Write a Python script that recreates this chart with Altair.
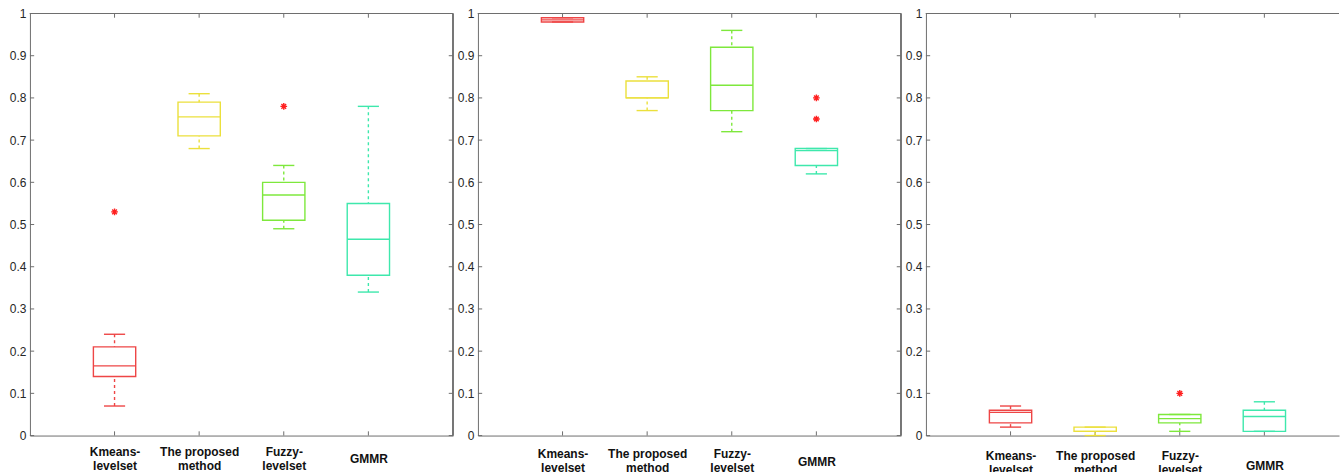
import altair as alt
import pandas as pd

# ---- data ----
categories = ["Kmeans-levelset", "The proposed method", "Fuzzy-levelset", "GMMR"]
label_lines = [["Kmeans-", "levelset"], ["The proposed", "method"], ["Fuzzy-", "levelset"], ["GMMR"]]
positions = [1, 2, 3, 4]
colors = ["#ee4646", "#ebe03c", "#7ee83c", "#3ee8ac"]
y_ticks = [0, 0.1, 0.2, 0.3, 0.4, 0.5, 0.6, 0.7, 0.8, 0.9, 1]

# panel 1
p1_lower = [0.07, 0.68, 0.49, 0.34]
p1_q1 = [0.14, 0.71, 0.51, 0.38]
p1_median = [0.165, 0.755, 0.57, 0.465]
p1_q3 = [0.21, 0.79, 0.60, 0.55]
p1_upper = [0.24, 0.81, 0.64, 0.78]
p1_out_x = [1, 3]
p1_out_y = [0.53, 0.78]

# panel 2
p2_lower = [0.98, 0.77, 0.72, 0.62]
p2_q1 = [0.98, 0.80, 0.77, 0.64]
p2_median = [0.985, 0.80, 0.83, 0.675]
p2_q3 = [0.99, 0.84, 0.92, 0.68]
p2_upper = [0.99, 0.85, 0.96, 0.68]
p2_out_x = [4, 4]
p2_out_y = [0.75, 0.80]

# panel 3
p3_lower = [0.02, 0.0, 0.01, 0.01]
p3_q1 = [0.03, 0.01, 0.03, 0.01]
p3_median = [0.055, 0.01, 0.04, 0.045]
p3_q3 = [0.06, 0.02, 0.05, 0.06]
p3_upper = [0.07, 0.02, 0.05, 0.08]
p3_out_x = [3]
p3_out_y = [0.10]

FRAME = "#6e6e6e"
FONT = "Liberation Sans"
ASTERISK = "M0,-1L0,1M-1,0L1,0M-0.7,-0.7L0.7,0.7M-0.7,0.7L0.7,-0.7"


def label_expr():
    parts = []
    for p, lines in zip(positions, label_lines):
        arr = "[" + ",".join("'%s'" % s for s in lines) + "]"
        parts.append((p, arr))
    expr = parts[-1][1]
    for p, arr in reversed(parts[:-1]):
        expr = "datum.value == %d ? %s : %s" % (p, arr, expr)
    return expr


def panel(lower, q1, med, q3, upper, out_x, out_y, width, xmax, pad_two, pad_one, right_border):
    df = pd.DataFrame({
        "cat": categories, "pos": positions, "lower": lower, "q1": q1,
        "median": med, "q3": q3, "upper": upper,
    })
    xs = alt.Scale(domain=[0, xmax], nice=False, zero=False)
    ys = alt.Scale(domain=[0, 1], nice=False, zero=False)
    col = alt.Color("cat:N", scale=alt.Scale(domain=categories, range=colors), legend=None)

    single = [p for p, l in zip(positions, label_lines) if len(l) == 1]
    test = " || ".join("datum.value == %d" % p for p in single)
    xaxis = alt.Axis(values=positions, labelExpr=label_expr(), ticks=False, grid=False,
                     domainColor=FRAME, labelFont=FONT, labelFontSize=12, labelFontWeight="bold",
                     labelColor="#111111", labelLineHeight=14, labelBaseline="middle",
                     labelPadding={"condition": {"test": test, "value": pad_one}, "value": pad_two},
                     labelAngle=0, minExtent=36, maxExtent=36, title=None)
    yaxis = alt.Axis(values=y_ticks, format=".1~f", ticks=False, grid=False,
                     domainColor=FRAME, labelFont=FONT, labelFontSize=12,
                     labelColor="#262626", labelPadding=4, labelFlush=False,
                     minExtent=24, maxExtent=24, title=None)

    base = alt.Chart(df).transform_calculate(
        bl="datum.pos - 0.25", br="datum.pos + 0.25",
        cl="datum.pos - 0.125", cr="datum.pos + 0.125")

    axes_layer = base.mark_rule(opacity=0).encode(
        x=alt.X("pos:Q", scale=xs, axis=xaxis),
        y=alt.Y("median:Q", scale=ys, axis=yaxis))

    # frame and inward ticks
    ytk = pd.DataFrame({"t": y_ticks})
    xtk = pd.DataFrame({"t": positions})
    layers = [axes_layer]
    layers.append(alt.Chart(ytk).mark_rule(color=FRAME).encode(
        x=alt.datum(0, scale=xs), x2=alt.datum(0.05), y=alt.Y("t:Q", scale=ys)))
    layers.append(alt.Chart(xtk).mark_rule(color=FRAME).encode(
        x=alt.X("t:Q", scale=xs), y=alt.datum(0, scale=ys), y2=alt.datum(0.01)))
    layers.append(alt.Chart(xtk).mark_rule(color=FRAME).encode(
        x=alt.X("t:Q", scale=xs), y=alt.datum(1, scale=ys), y2=alt.datum(0.99)))
    layers.append(alt.Chart(xtk).mark_rule(color=FRAME).encode(
        x=alt.datum(0, scale=xs), x2=alt.datum(xmax), y=alt.datum(1, scale=ys)))
    if right_border:
        layers.append(alt.Chart(ytk).mark_rule(color=FRAME).encode(
            x=alt.datum(5, scale=xs), x2=alt.datum(4.95), y=alt.Y("t:Q", scale=ys)))
        layers.append(alt.Chart(xtk).mark_rule(color=FRAME).encode(
            x=alt.datum(5, scale=xs), y=alt.datum(0, scale=ys), y2=alt.datum(1)))

    sw = 1.4
    layers += [
        base.mark_rule(strokeDash=[3, 3], strokeWidth=sw).encode(
            x=alt.X("pos:Q", scale=xs), y=alt.Y("upper:Q", scale=ys), y2="q3:Q", color=col),
        base.mark_rule(strokeDash=[3, 3], strokeWidth=sw).encode(
            x=alt.X("pos:Q", scale=xs), y=alt.Y("lower:Q", scale=ys), y2="q1:Q", color=col),
        base.mark_rule(strokeWidth=sw).encode(
            x=alt.X("cl:Q", scale=xs), x2="cr:Q", y=alt.Y("upper:Q", scale=ys), color=col),
        base.mark_rule(strokeWidth=sw).encode(
            x=alt.X("cl:Q", scale=xs), x2="cr:Q", y=alt.Y("lower:Q", scale=ys), color=col),
        base.mark_rect(filled=False, strokeWidth=sw).encode(
            x=alt.X("bl:Q", scale=xs), x2="br:Q", y=alt.Y("q1:Q", scale=ys), y2="q3:Q", color=col),
        base.mark_rule(strokeWidth=sw).encode(
            x=alt.X("bl:Q", scale=xs), x2="br:Q", y=alt.Y("median:Q", scale=ys), color=col),
    ]
    odf = pd.DataFrame({"x": out_x, "y": out_y})
    layers.append(alt.Chart(odf).mark_point(shape=ASTERISK, filled=False, size=45,
                                            strokeWidth=1.4, color="#ff2020", opacity=1).encode(
        x=alt.X("x:Q", scale=xs), y=alt.Y("y:Q", scale=ys)))

    return alt.layer(*layers).properties(width=width, height=423)


c1 = panel(p1_lower, p1_q1, p1_median, p1_q3, p1_upper, p1_out_x, p1_out_y, 424, 5, 16, 23, True)
c2 = panel(p2_lower, p2_q1, p2_median, p2_q3, p2_upper, p2_out_x, p2_out_y, 424, 5, 18, 26, True)
c3 = panel(p3_lower, p3_q1, p3_median, p3_q3, p3_upper, p3_out_x, p3_out_y, 414, 5 * 414 / 424, 20, 30, False)

chart = alt.hconcat(c1, c2, c3, spacing=0).properties(
    padding={"left": 6, "top": 7, "right": 0, "bottom": 0},
    background="white",
).configure_view(stroke=None)

chart.save("out.html", embed_options={"renderer": "svg", "actions": False})
